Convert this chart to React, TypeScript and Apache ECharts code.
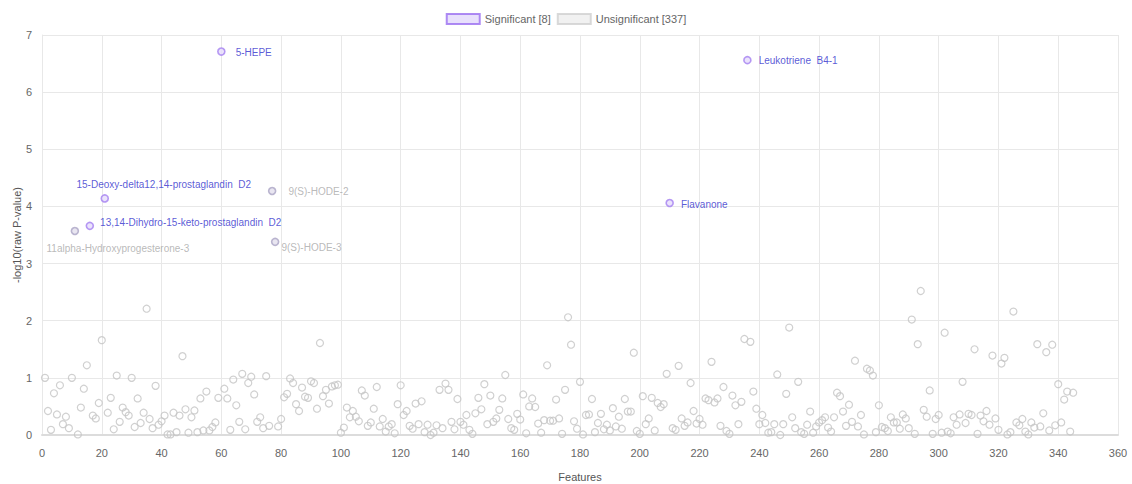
import React, { useEffect, useRef } from "react";
import * as echarts from "echarts";

// -log10(raw P-value) for features 1..345
const featureValues: number[] = [
  1.0, 0.42, 0.09, 0.73, 0.36, 0.87, 0.19, 0.32, 0.12, 1.0,
  3.57, 0.01, 0.48, 0.81, 1.22, 3.66, 0.34, 0.29, 0.56, 1.66,
  4.14, 0.39, 0.65, 0.1, 1.04, 0.23, 0.48, 0.4, 0.34, 1.0,
  0.14, 0.64, 0.21, 0.39, 2.21, 0.28, 0.12, 0.86, 0.18, 0.24,
  0.34, 0.01, 0.01, 0.39, 0.05, 0.34, 1.38, 0.45, 0.04, 0.31,
  0.43, 0.05, 0.64, 0.08, 0.76, 0.08, 0.14, 0.22, 0.65, 6.71,
  0.81, 0.64, 0.09, 0.97, 0.52, 0.23, 1.07, 0.1, 0.91, 1.02,
  0.71, 0.23, 0.31, 0.12, 1.03, 0.16, 4.27, 3.38, 0.15, 0.28,
  0.66, 0.72, 0.99, 0.91, 0.54, 0.42, 0.83, 0.67, 0.65, 0.94,
  0.91, 0.46, 1.61, 0.68, 0.79, 0.55, 0.85, 0.87, 0.88, 0.04,
  0.13, 0.48, 0.31, 0.42, 0.32, 0.24, 0.78, 0.69, 0.16, 0.22,
  0.46, 0.84, 0.15, 0.28, 0.06, 0.15, 0.19, 0.03, 0.54, 0.87,
  0.35, 0.42, 0.16, 0.11, 0.55, 0.19, 0.59, 0.05, 0.18, 0.0,
  0.04, 0.17, 0.79, 0.12, 0.9, 0.79, 0.23, 0.1, 0.63, 0.23,
  0.18, 0.35, 0.09, 0.02, 0.38, 0.65, 0.45, 0.89, 0.19, 0.69,
  0.23, 0.29, 0.44, 0.64, 1.05, 0.28, 0.12, 0.09, 0.37, 0.27,
  0.71, 0.03, 0.5, 0.64, 0.49, 0.2, 0.04, 0.26, 1.22, 0.25,
  0.25, 0.62, 0.29, 0.02, 0.79, 2.06, 1.58, 0.24, 0.11, 0.93,
  0.01, 0.35, 0.36, 0.63, 0.05, 0.21, 0.37, 0.1, 0.18, 0.08,
  0.47, 0.15, 0.32, 0.11, 0.63, 0.41, 0.41, 1.44, 0.07, 0.02,
  0.68, 0.19, 0.29, 0.65, 0.08, 0.56, 0.49, 0.54, 1.07, 4.06,
  0.12, 0.09, 1.21, 0.29, 0.16, 0.22, 0.91, 0.42, 0.2, 0.28,
  0.18, 0.64, 0.61, 1.28, 0.57, 0.64, 0.16, 0.84, 0.07, 0.02,
  0.69, 0.52, 0.19, 0.58, 1.68, 6.56, 1.63, 0.76, 0.46, 0.19,
  0.35, 0.21, 0.04, 0.05, 0.19, 1.06, 0.0, 0.19, 0.72, 1.88,
  0.31, 0.12, 0.93, 0.05, 0.02, 0.18, 0.41, 0.04, 0.15, 0.22,
  0.26, 0.31, 0.13, 0.06, 0.31, 0.74, 0.68, 0.41, 0.16, 0.53,
  0.23, 1.3, 0.15, 0.35, 0.01, 1.16, 1.13, 1.04, 0.05, 0.52,
  0.14, 0.12, 0.07, 0.31, 0.22, 0.22, 0.11, 0.36, 0.29, 0.12,
  2.02, 0.02, 1.59, 2.52, 0.44, 0.32, 0.78, 0.02, 0.28, 0.35,
  0.04, 1.79, 0.06, 0.03, 0.31, 0.18, 0.36, 0.93, 0.21, 0.37,
  0.35, 1.5, 0.02, 0.34, 0.24, 0.42, 0.18, 1.39, 0.29, 0.09,
  1.25, 1.35, 0.01, 0.05, 2.16, 0.22, 0.17, 0.28, 0.06, 0.01,
  0.22, 0.13, 1.59, 0.15, 0.38, 1.45, 0.08, 1.58, 0.17, 0.89,
  0.22, 0.62, 0.76, 0.06, 0.74,
];

const sigFeatures: number[] = [11, 16, 21, 60, 77, 78, 210, 236];
const sigNames: string[] = [
  "11alpha-Hydroxyprogesterone-3",
  "13,14-Dihydro-15-keto-prostaglandin  D2",
  "15-Deoxy-delta12,14-prostaglandin  D2",
  "5-HEPE",
  "9(S)-HODE-2",
  "9(S)-HODE-3",
  "Flavanone",
  "Leukotriene  B4-1",
];

const xTicks = { min: 0, max: 360, interval: 20 };
const yTicks = { min: 0, max: 7, interval: 1 };

const FONT = "'Liberation Sans', Arial, sans-serif";
const BLUE = "#2f2fcc";
const GREYLBL = "#a8a8a8";

// label placement per significant name (styling only)
const labelPlacement: Record<string, any> = {
  "11alpha-Hydroxyprogesterone-3": { position: "bottom", offset: [43, 3], color: GREYLBL },
  "13,14-Dihydro-15-keto-prostaglandin  D2": { position: "right", offset: [1, -3], color: BLUE },
  "15-Deoxy-delta12,14-prostaglandin  D2": { position: "top", offset: [59, 0], color: BLUE },
  "5-HEPE": { position: "right", offset: [5, 1], color: BLUE },
  "9(S)-HODE-2": { position: "right", offset: [7, 0], color: GREYLBL },
  "9(S)-HODE-3": { position: "right", offset: [-3, 6], color: GREYLBL },
  "Flavanone": { position: "right", offset: [2, 1], color: BLUE },
  "Leukotriene  B4-1": { position: "right", offset: [2, 0], color: BLUE },
};

export default function App() {
  const ref = useRef<HTMLDivElement>(null);
  useEffect(() => {
    if (!ref.current) return;
    const chart = echarts.init(ref.current, undefined, { renderer: "svg" });

    const sigSet = new Set(sigFeatures);
    const unsigData: number[][] = [];
    featureValues.forEach((v, i) => {
      const f = i + 1;
      if (!sigSet.has(f)) unsigData.push([f, v]);
    });
    const sigData = sigFeatures.map((f, i) => {
      const name = sigNames[i];
      const lp = labelPlacement[name];
      const grey = lp.color !== BLUE;
      return {
        name,
        value: [f, featureValues[f - 1]],
        itemStyle: grey
          ? { color: "#e4e0ee", borderColor: "#aaa4c4" }
          : undefined,
        label: {
          show: true,
          formatter: name,
          position: lp.position,
          offset: lp.offset,
          color: lp.color,
          fontSize: 10,
          fontFamily: FONT,
        },
      };
    });

    const sigLabel = `Significant [${sigData.length}]`;
    const unsigLabel = `Unsignificant [${unsigData.length}]`;

    chart.setOption({
      animation: false,
      backgroundColor: "#ffffff",
      textStyle: { fontFamily: FONT },
      legend: {
        top: 8,
        left: "center",
        itemWidth: 33,
        itemHeight: 10,
        itemGap: 6,
        textStyle: { color: "#666", fontSize: 11, fontFamily: FONT },
        data: [
          { name: sigLabel, icon: "rect", itemStyle: { color: "#e2d8fb", borderColor: "#9a6ef0", borderWidth: 2 } },
          { name: unsigLabel, icon: "rect", itemStyle: { color: "#eeeeee", borderColor: "#cfcfcf", borderWidth: 2 } },
        ],
      },
      grid: { left: 42, right: 14, top: 35, bottom: 49, outerBoundsMode: "none", containLabel: false },
      xAxis: {
        type: "value",
        min: xTicks.min,
        max: xTicks.max,
        interval: xTicks.interval,
        name: "Features",
        nameLocation: "middle",
        nameGap: 36,
        nameMoveOverlap: false,
        nameTextStyle: { color: "#555", fontSize: 11, fontFamily: FONT },
        axisLine: { show: true, lineStyle: { color: "#dcdcdc", width: 2 } },
        axisTick: { show: false },
        axisLabel: { color: "#666", fontSize: 11, margin: 12, fontFamily: FONT },
        splitLine: { show: true, lineStyle: { color: "#e8e8e8" } },
      },
      yAxis: {
        type: "value",
        min: yTicks.min,
        max: yTicks.max,
        interval: yTicks.interval,
        name: "-log10(raw P-value)",
        nameLocation: "middle",
        nameGap: 20,
        nameMoveOverlap: false,
        nameTextStyle: { color: "#555", fontSize: 11, fontFamily: FONT },
        axisLine: { show: true, lineStyle: { color: "#e8e8e8" } },
        axisTick: { show: false },
        axisLabel: { color: "#666", fontSize: 11, margin: 10, fontFamily: FONT },
        splitLine: { show: true, lineStyle: { color: "#e8e8e8" } },
      },
      series: [
        {
          name: unsigLabel,
          type: "scatter",
          symbol: "circle",
          symbolSize: 7,
          data: unsigData,
          itemStyle: { color: "rgba(255,255,255,0)", borderColor: "#c4c4c4", borderWidth: 1.2 },
          emphasis: { disabled: true },
          z: 2,
        },
        {
          name: sigLabel,
          type: "scatter",
          symbol: "circle",
          symbolSize: 7,
          data: sigData,
          itemStyle: { color: "#e6dcfb", borderColor: "#a47ff0", borderWidth: 1.6 },
          emphasis: { disabled: true },
          z: 3,
        },
      ],
    });
    return () => chart.dispose();
  }, []);

  return (
    <div
      ref={ref}
      style={{ position: "absolute", left: 0, top: 0, width: 1132, height: 484 }}
    />
  );
}
